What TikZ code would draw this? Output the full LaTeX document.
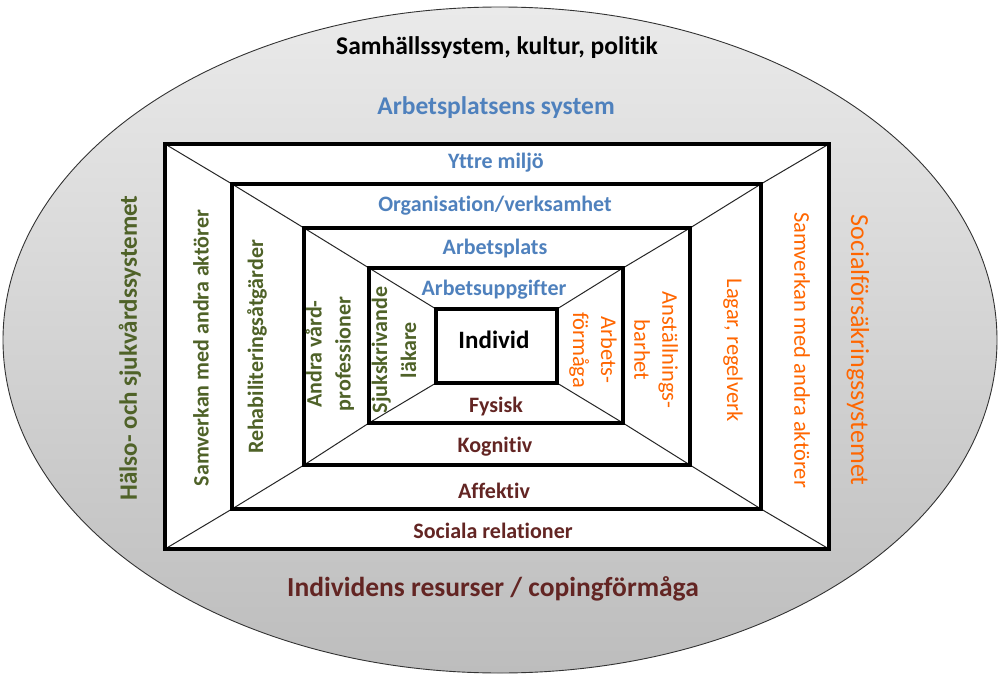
\documentclass[tikz,border=0pt]{standalone}
\usepackage{fontspec}
\setmainfont{Carlito}[Ligatures={NoCommon}]
\definecolor{sysblue}{HTML}{4F81BD}
\definecolor{resred}{HTML}{632523}
\definecolor{caregreen}{HTML}{4F6228}
\definecolor{insorange}{HTML}{FF6600}
\definecolor{shadetop}{HTML}{EAEAEA}
\definecolor{shadebot}{HTML}{BDBDBD}
\begin{document}
\begin{tikzpicture}[x=1pt,y=-1pt,
  lbl/.style={inner sep=0pt, align=center},
  bluebold/.style={lbl, text=sysblue, font=\bfseries\fontsize{22}{27}\selectfont},
  redbold/.style={lbl, text=resred, font=\bfseries\fontsize{22}{27}\selectfont},
  greenbold/.style={lbl, text=caregreen, rotate=90, font=\bfseries\fontsize{22}{29}\selectfont},
  orangereg/.style={lbl, text=insorange, rotate=-90, font=\fontsize{22.5}{28}\selectfont},
  frame/.style={draw=black, line width=4pt},
  corner/.style={draw=black!85, line width=1pt}]
\useasboundingbox (0,0) rectangle (999,677);

% outer society ellipse with vertical grey gradient
\shade[top color=shadetop, bottom color=shadebot, draw=black!80, line width=0.9pt]
  (500,340) ellipse [x radius=497, y radius=333];

% corners of the nested frames
\coordinate (a1) at (165,144); \coordinate (b1) at (829,549);
\coordinate (a2) at (232,184); \coordinate (b2) at (761,509);
\coordinate (a3) at (304,228); \coordinate (b3) at (690,465);
\coordinate (a4) at (369,268); \coordinate (b4) at (623,423);
\coordinate (a5) at (436,309); \coordinate (b5) at (557,383);

\fill[white] (a1) rectangle (b1);

% diagonals joining the corners of neighbouring frames
\foreach \o/\i in {1/2, 2/3, 3/4, 4/5} {
  \draw[corner] (a\o) -- (a\i);
  \draw[corner] (b\o) -- (b\i);
  \draw[corner] (a\o -| b\o) -- (a\i -| b\i);
  \draw[corner] (a\o |- b\o) -- (a\i |- b\i);
}
\foreach \k in {1,...,5} { \draw[frame] (a\k) rectangle (b\k); }

% labels: society and workplace
\node[lbl, font=\bfseries\fontsize{25.5}{30}\selectfont] (samhalle) at (497,48) {Samhällssystem, kultur, politik};
\node[bluebold, font=\bfseries\fontsize{25.5}{30}\selectfont] (arbsys) at (496,108) {Arbetsplatsens system};
\node[bluebold] (yttre) at (496,163) {Yttre miljö};
\node[bluebold] (org) at (495,206) {Organisation/verksamhet};
\node[bluebold] (arbplats) at (495,249) {Arbetsplats};
\node[bluebold] (arbupp) at (494,290) {Arbetsuppgifter};
\node[lbl, font=\bfseries\fontsize{25}{30}\selectfont] (individ) at (494,340) {Individ};

% labels: the individual's resources
\node[redbold] (fysisk) at (496,407) {Fysisk};
\node[redbold] (kognitiv) at (495,447) {Kognitiv};
\node[redbold] (affektiv) at (494,491) {Affektiv};
\node[redbold] (sociala) at (493,531) {Sociala relationer};
\node[redbold, font=\bfseries\fontsize{27.5}{32}\selectfont] (resurser) at (493,589) {Individens resurser / copingförmåga};

% labels: health care system
\node[greenbold, font=\bfseries\fontsize{25}{30}\selectfont] (halso) at (130,348) {Hälso- och sjukvårdssystemet};
\node[greenbold] (samvL) at (201,348) {Samverkan med andra aktörer};
\node[greenbold] (rehab) at (257,347) {Rehabiliteringsåtgärder};
\node[greenbold] (andra) at (330,354) {Andra vård-\\professioner};
\node[greenbold] (sjuk) at (394,350) {Sjukskrivande\\läkare};

% labels: social insurance system
\node[orangereg] (arbform) at (593,350) {Arbets-\\förmåga};
\node[orangereg] (anst) at (656,350) {Anställnings-\\barhet};
\node[orangereg] (lagar) at (733,350) {Lagar, regelverk};
\node[orangereg] (samvR) at (802,350) {Samverkan med andra aktörer};
\node[orangereg, font=\fontsize{26}{30}\selectfont] (social) at (858,350) {Socialförsäkringssystemet};
\end{tikzpicture}
\end{document}
